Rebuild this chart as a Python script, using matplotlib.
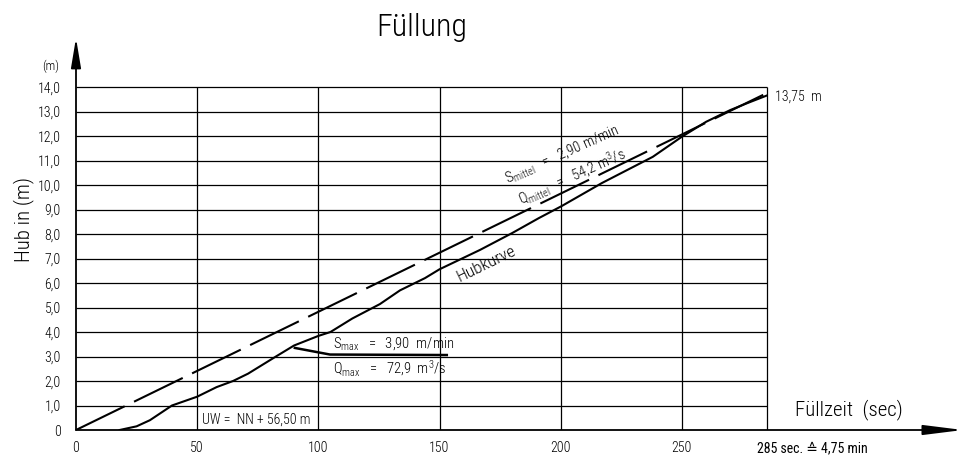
import numpy as np
import matplotlib
matplotlib.use("Agg")
import matplotlib.pyplot as plt


# ==========================================
# FONT
# ==========================================

FONT = ["Roboto Condensed", "DejaVu Sans"]

plt.rcParams["font.family"] = FONT
plt.rcParams["font.weight"] = "light"
plt.rcParams["mathtext.fontset"] = "custom"
plt.rcParams["mathtext.rm"] = FONT[0] + ":light"
plt.rcParams["mathtext.it"] = FONT[0] + ":light"


# ==========================================
# DATA
# ==========================================

# Hubkurve
hub_t = [18, 25, 30.5, 39.6, 50, 58, 64.8, 71, 82.5, 90, 100, 105, 114,
         125.4, 133.7, 144, 150, 166.7, 180, 191, 200.4, 217, 238, 250,
         260, 270, 276.7, 285]
hub_h = [0, 0.15, 0.4, 1.0, 1.36, 1.75, 2.0, 2.3, 3.0, 3.45, 3.84, 4.0, 4.55,
         5.14, 5.7, 6.2, 6.56, 7.35, 8.04, 8.65, 9.14, 10.08, 11.15, 11.97,
         12.58, 13.06, 13.33, 13.65]

# mittlere Hubgeschwindigkeit
mittel_t = [0, 285]
mittel_h = [0, 13.75]

# Hinweislinie S_max / Q_max
leader_t = [90.3, 104.8, 153]
leader_h = [3.35, 3.08, 3.06]

x_ticks = [0, 50, 100, 150, 200, 250, 285]
x_labels = ["0", "50", "100", "150", "200", "250", ""]
x_end_label = "285 sec. \u2259 4,75 min"

y_ticks = list(range(0, 15))
y_labels = ["0"] + ["%d,0" % v for v in y_ticks[1:]]


# ==========================================
# PLOT
# ==========================================

fig = plt.figure(figsize=(9.71, 4.58), dpi=100)

ax = fig.add_axes([76 / 971, 28 / 458, 887 / 971, 392 / 458])
ax.set_xlim(0, 366)
ax.set_ylim(0, 16)

for s in ax.spines.values():
    s.set_visible(False)


# grid / box
ax.hlines(y_ticks[1:], 0, 285, color="black", lw=0.9)
ax.vlines(x_ticks[1:], 0, 14, color="black", lw=0.9)


# axes with arrows
ax.annotate("", xy=(366, 0), xytext=(0, 0), annotation_clip=False,
            arrowprops=dict(arrowstyle="-|>,head_length=2.4,head_width=0.3",
                            mutation_scale=10, lw=1.3, color="black",
                            shrinkA=0, shrinkB=0))
ax.annotate("", xy=(0, 16), xytext=(0, 0), annotation_clip=False,
            arrowprops=dict(arrowstyle="-|>,head_length=1.8,head_width=0.3",
                            mutation_scale=10, lw=1.3, color="black",
                            shrinkA=0, shrinkB=0))


# curves
ax.plot(hub_t, hub_h, color="black", lw=1.5)

line, = ax.plot(mittel_t, mittel_h, color="black", lw=1.5)
line.set_dashes([26, 5])

ax.plot(leader_t, leader_h, color="black", lw=1.8)


# ticks
ax.set_xticks(x_ticks)
ax.set_xticklabels(x_labels, fontsize=10)
ax.set_yticks(y_ticks)
ax.set_yticklabels(y_labels, fontsize=10)
ax.tick_params(length=0)
ax.tick_params(axis="x", pad=8)
ax.tick_params(axis="y", pad=11)

# regular weight so the fallback family has the "entspricht" sign
ax.annotate(x_end_label, xy=(281, 0), xytext=(0, -8),
            textcoords="offset points", fontsize=10, fontweight="normal",
            family=FONT, ha="left", va="top", annotation_clip=False)


# labels
fig.text(422 / 971, 1 - 27 / 458, "F\u00fcllung", fontsize=23,
         ha="center", va="center")

ax.text(-10.5, 14.86, "(m)", fontsize=9, ha="center", va="center")

ax.text(-21.5, 8.6, "Hub in (m)", fontsize=15, rotation=90,
        ha="center", va="center")

ax.text(296.5, 0.82, "F\u00fcllzeit  (sec)", fontsize=15,
        ha="left", va="center")

ax.text(52, 0.42, "UW =  NN + 56,50 m", fontsize=10,
        ha="left", va="center")

ax.text(288.5, 13.62, "13,75  m", fontsize=10, ha="left", va="center")

ax.text(106, 3.35, r"S$_{\mathrm{max}}$   =   3,90  m/min", fontsize=10.5,
        ha="left", va="baseline")
ax.text(106, 2.33, r"Q$_{\mathrm{max}}$   =   72,9  m$^{3}$/s", fontsize=10.5,
        ha="left", va="baseline")

ax.text(178, 10.08, r"S$_{\mathrm{mittel}}$   =   2,90 m/min", fontsize=10.5,
        rotation=24, rotation_mode="anchor", ha="left", va="baseline")
ax.text(183.5, 9.2, r"Q$_{\mathrm{mittel}}$   =   54,2 m$^{3}$/s", fontsize=10.5,
        rotation=24, rotation_mode="anchor", ha="left", va="baseline")

ax.text(158.4, 6.05, "Hubkurve", fontsize=12.5, rotation=26,
        rotation_mode="anchor", ha="left", va="baseline")


fig.savefig("out.png", dpi=100)
plt.close(fig)

print("Saved: out.png")
